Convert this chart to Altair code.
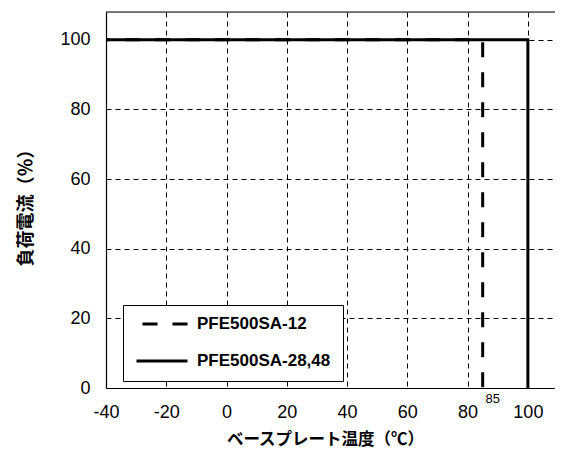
import altair as alt
import pandas as pd

# ---- data ----
series = ["PFE500SA-12", "PFE500SA-12", "PFE500SA-12",
          "PFE500SA-28,48", "PFE500SA-28,48", "PFE500SA-28,48"]
temps = [-40, 85, 85, -40, 100, 100]
loads = [100, 100, 0, 100, 100, 0]
order = [0, 1, 2, 0, 1, 2]

series_names = ["PFE500SA-12", "PFE500SA-28,48"]
x_ticks = [-40, -20, 0, 20, 40, 60, 80, 100]
y_ticks = [0, 20, 40, 60, 80, 100]

note_x = [85]
note_y = [0]
note_text = ["85"]

df = pd.DataFrame({"series": series, "temp": temps, "load": loads, "order": order})
note_df = pd.DataFrame({"temp": note_x, "load": note_y, "label": note_text})

W, H = 449, 376
NUM_FONT = "Liberation Sans"
JP_FONT = "Noto Sans CJK JP"

x_scale = alt.Scale(domain=[-40, 109], nice=False, zero=False)
y_scale = alt.Scale(domain=[0, 108], nice=False, zero=False)

x_axis = alt.Axis(
    values=x_ticks, grid=True, gridDash=[5, 4], gridColor="black", gridWidth=1,
    gridOpacity=1, ticks=False, domainColor="black", domainWidth=1.2,
    labelFont=NUM_FONT, labelFontSize=18, labelColor="black", labelPadding=15,
    labelFlush=False, labelOverlap=False, labelExpr="toString(datum.value)",
    title="ベースプレート温度（℃）", titleFont=JP_FONT, titleFontWeight="bold",
    titleFontSize=16.5, titleColor="black", titleX=219, titleY=51,
    titleBaseline="middle", titleAlign="center",
)
y_axis = alt.Axis(
    values=y_ticks, grid=True, gridDash=[5, 4], gridColor="black", gridWidth=1,
    gridOpacity=1, ticks=False, domainColor="black", domainWidth=1.2,
    labelFont=NUM_FONT, labelFontSize=18, labelColor="black", labelPadding=16,
    labelOverlap=False, labelExpr="toString(datum.value)",
    title="負荷電流（％）", titleFont=JP_FONT, titleFontWeight="bold",
    titleFontSize=18, titleColor="black", titleX=-80, titleY=191,
    titleAngle=270, titleBaseline="middle", titleAlign="center",
)

lines = alt.Chart(df).mark_line(
    color="black", strokeWidth=3, strokeCap="butt", strokeDashOffset=11
).encode(
    x=alt.X("temp:Q", scale=x_scale, axis=x_axis),
    y=alt.Y("load:Q", scale=y_scale, axis=y_axis),
    order="order:Q",
    detail="series:N",
    strokeDash=alt.StrokeDash(
        "series:N",
        scale=alt.Scale(domain=series_names, range=[[15, 15], [1, 0]]),
        legend=alt.Legend(
            orient="none", legendX=17, legendY=293, title=None,
            fillColor="white", strokeColor="black",
            padding=12, clipHeight=14, rowPadding=20,
            symbolType="stroke", symbolSize=2601, symbolStrokeWidth=3,
            symbolStrokeColor="black", symbolDashOffset=-6, labelOffset=8,
            labelFont=NUM_FONT, labelFontSize=17, labelFontWeight="bold",
            labelColor="black", labelLimit=300,
        ),
    ),
)

note = alt.Chart(note_df).mark_text(
    font=NUM_FONT, fontSize=13, color="black", dx=10, dy=11,
    align="center", baseline="middle",
).encode(x=alt.X("temp:Q", scale=x_scale), y=alt.Y("load:Q", scale=y_scale), text="label:N")

top_border = alt.Chart(note_df).mark_rule(color="black", strokeWidth=1.2).encode(
    x=alt.value(0), x2=alt.value(W), y=alt.value(0)
)

chart = alt.layer(lines, note, top_border).properties(
    width=W, height=H,
    autosize=alt.AutoSizeParams(type="none"),
    padding={"left": 98, "top": 4, "right": 0, "bottom": 61},
).configure_view(stroke=None).configure(background="white").configure_legend(strokeWidth=1)

chart.save("out.html", embed_options={"renderer": "svg", "actions": False})
